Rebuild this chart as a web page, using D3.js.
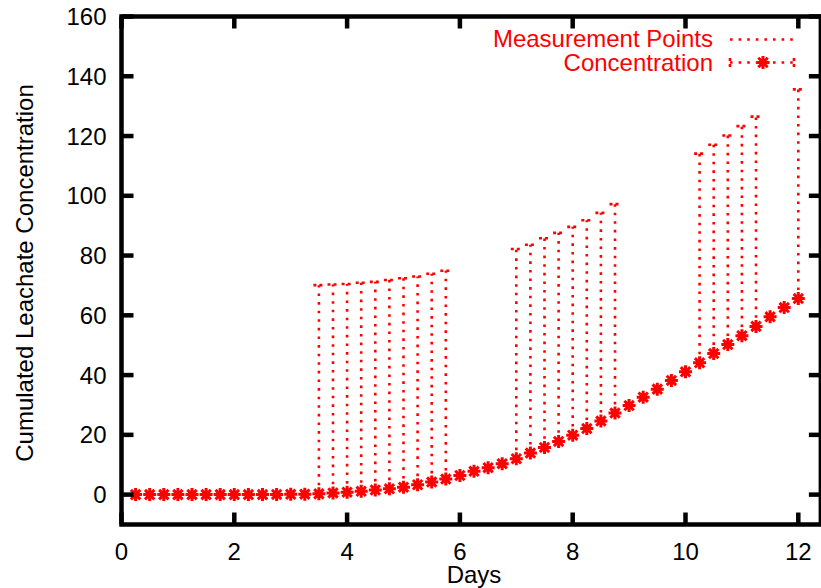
<!DOCTYPE html>
<html>
<head>
<meta charset="utf-8">
<script src="https://cdn.jsdelivr.net/npm/d3@7"></script>
<style>
  body { margin: 0; background: #fff; }
  svg text { font-family: "Liberation Sans", Arial, sans-serif; }
</style>
</head>
<body>
<div id="chart"></div>
<script>
const FRAME_WIDTH = 821;
const FRAME_HEIGHT = 588;
const PLOT = {left: 121.5, right: 821, top: 16.5, bottom: 524.5};
const RED = "#ff0000";
const FONT = 24;

// concentration curve, one value every quarter day
const days = [0.25, 0.5, 0.75, 1, 1.25, 1.5, 1.75, 2, 2.25, 2.5, 2.75, 3, 3.25,
              3.5, 3.75, 4, 4.25, 4.5, 4.75, 5, 5.25, 5.5, 5.75, 6, 6.25, 6.5, 6.75,
              7, 7.25, 7.5, 7.75, 8, 8.25, 8.5, 8.75, 9, 9.25, 9.5, 9.75,
              10, 10.25, 10.5, 10.75, 11, 11.25, 11.5, 11.75, 12];
const concentration = [0, 0, 0, 0, 0, 0, 0, 0, 0, 0, 0.05, 0.1, 0.15,
                       0.25, 0.55, 0.8, 1.1, 1.55, 1.95, 2.5, 3.3, 4.2, 5.2, 6.4, 7.8, 9.0, 10.35,
                       12.0, 13.9, 15.8, 17.8, 19.9, 22.1, 24.6, 27.3, 29.8, 32.6, 35.3, 38.2,
                       41.1, 44.1, 47.2, 50.2, 53.2, 56.3, 59.5, 62.6, 65.6];

// measurement points (upper end of the dotted bars)
const measureDays = [3.5, 3.75, 4, 4.25, 4.5, 4.75, 5, 5.25, 5.5, 5.75,
                     7, 7.25, 7.5, 7.75, 8, 8.25, 8.5, 8.75,
                     10.25, 10.5, 10.75, 11, 11.25, 12];
const measureTop = [70.1, 70.3, 70.5, 70.9, 71.2, 71.8, 72.4, 73.0, 73.9, 74.9,
                    82.2, 83.6, 85.8, 87.6, 89.6, 91.8, 94.3, 97.2,
                    114.1, 117.1, 120.2, 123.3, 126.5, 135.6];

const xTicks = [0, 2, 4, 6, 8, 10, 12];
const yTicks = [0, 20, 40, 60, 80, 100, 120, 140, 160];
const legendLabels = ["Measurement Points", "Concentration"];

const concData = days.map((d, i) => ({day: d, value: concentration[i]}));
const barData = measureDays.map((d, i) => ({
    day: d,
    top: measureTop[i],
    bottom: concentration[days.indexOf(d)]
}));

const svg = d3.select("#chart")
  .append("svg")
    .attr("width", FRAME_WIDTH)
    .attr("height", FRAME_HEIGHT);

const x = d3.scaleLinear().domain([0, 12.4]).range([PLOT.left, PLOT.left + 12.4 * 56.4]);
const y = d3.scaleLinear().domain([-10, 160]).range([PLOT.bottom, PLOT.top]);

const DOTS = "2.6,6";
const star = "M-6.5,0H6.5M0,-6.5V6.5M-4.7,-4.7L4.7,4.7M-4.7,4.7L4.7,-4.7";

// error bars (dotted vertical lines)
const bars = svg.append("g");
bars.selectAll("line.bar")
  .data(barData)
  .enter()
  .append("line")
    .attr("class", "bar")
    .attr("x1", d => x(d.day))
    .attr("x2", d => x(d.day))
    .attr("y1", d => y(d.bottom))
    .attr("y2", d => y(d.top))
    .attr("stroke", RED)
    .attr("stroke-width", 2.6)
    .attr("stroke-dasharray", DOTS);
bars.selectAll("line.cap")
  .data(barData)
  .enter()
  .append("line")
    .attr("class", "cap")
    .attr("x1", d => x(d.day) - 5.5)
    .attr("x2", d => x(d.day) + 5.5)
    .attr("y1", d => y(d.top))
    .attr("y2", d => y(d.top))
    .attr("stroke", RED)
    .attr("stroke-width", 2.6)
    .attr("stroke-dasharray", "3,3");

// concentration stars
svg.append("g")
  .selectAll("path")
  .data(concData)
  .enter()
  .append("path")
    .attr("d", star)
    .attr("transform", d => "translate(" + x(d.day) + "," + y(d.value) + ")")
    .attr("fill", "none")
    .attr("stroke", RED)
    .attr("stroke-width", 3);

// axes: border box with inward ticks on all four sides
const axisG = svg.append("g").attr("stroke", "#000").attr("stroke-width", 4.5);
axisG.append("rect")
    .attr("x", PLOT.left)
    .attr("y", PLOT.top)
    .attr("width", x(12.4) - PLOT.left)
    .attr("height", PLOT.bottom - PLOT.top)
    .attr("fill", "none");
xTicks.forEach(t => {
    axisG.append("line").attr("x1", x(t)).attr("x2", x(t))
        .attr("y1", PLOT.bottom).attr("y2", PLOT.bottom - 12);
    axisG.append("line").attr("x1", x(t)).attr("x2", x(t))
        .attr("y1", PLOT.top).attr("y2", PLOT.top + 12);
});
yTicks.forEach(t => {
    axisG.append("line").attr("x1", PLOT.left).attr("x2", PLOT.left + 12)
        .attr("y1", y(t)).attr("y2", y(t));
    axisG.append("line").attr("x1", x(12.4)).attr("x2", x(12.4) - 12)
        .attr("y1", y(t)).attr("y2", y(t));
});

// tick labels
svg.append("g")
  .selectAll("text")
  .data(xTicks)
  .enter()
  .append("text")
    .attr("x", d => x(d))
    .attr("y", 560)
    .attr("text-anchor", "middle")
    .attr("font-size", FONT)
    .text(d => d);
svg.append("g")
  .selectAll("text")
  .data(yTicks)
  .enter()
  .append("text")
    .attr("x", 106.5)
    .attr("y", d => y(d))
    .attr("dy", "0.36em")
    .attr("text-anchor", "end")
    .attr("font-size", FONT)
    .text(d => d);

// axis titles
svg.append("text")
    .attr("x", 474)
    .attr("y", 583)
    .attr("text-anchor", "middle")
    .attr("font-size", FONT)
    .text("Days");
svg.append("text")
    .attr("transform", "translate(33," + 273 + ") rotate(-90)")
    .attr("text-anchor", "middle")
    .attr("font-size", FONT)
    .text("Cumulated Leachate Concentration");

// legend
const legend = svg.append("g");
legend.append("text")
    .attr("x", 713).attr("y", 47)
    .attr("text-anchor", "end")
    .attr("font-size", FONT)
    .attr("fill", RED)
    .text(legendLabels[0]);
legend.append("line")
    .attr("x1", 730).attr("x2", 793)
    .attr("y1", 39.5).attr("y2", 39.5)
    .attr("stroke", RED).attr("stroke-width", 2.6)
    .attr("stroke-dasharray", DOTS);
legend.append("text")
    .attr("x", 713).attr("y", 70.5)
    .attr("text-anchor", "end")
    .attr("font-size", FONT)
    .attr("fill", RED)
    .text(legendLabels[1]);
legend.append("line")
    .attr("x1", 730).attr("x2", 793)
    .attr("y1", 62.5).attr("y2", 62.5)
    .attr("stroke", RED).attr("stroke-width", 2.6)
    .attr("stroke-dasharray", DOTS);
[730, 794].forEach(px => {
    legend.append("line")
        .attr("x1", px).attr("x2", px)
        .attr("y1", 58).attr("y2", 67)
        .attr("stroke", RED).attr("stroke-width", 2.6)
        .attr("stroke-dasharray", "3,3");
});
legend.append("path")
    .attr("d", star)
    .attr("transform", "translate(763,62.5)")
    .attr("fill", "none")
    .attr("stroke", RED)
    .attr("stroke-width", 3);
</script>
</body>
</html>
